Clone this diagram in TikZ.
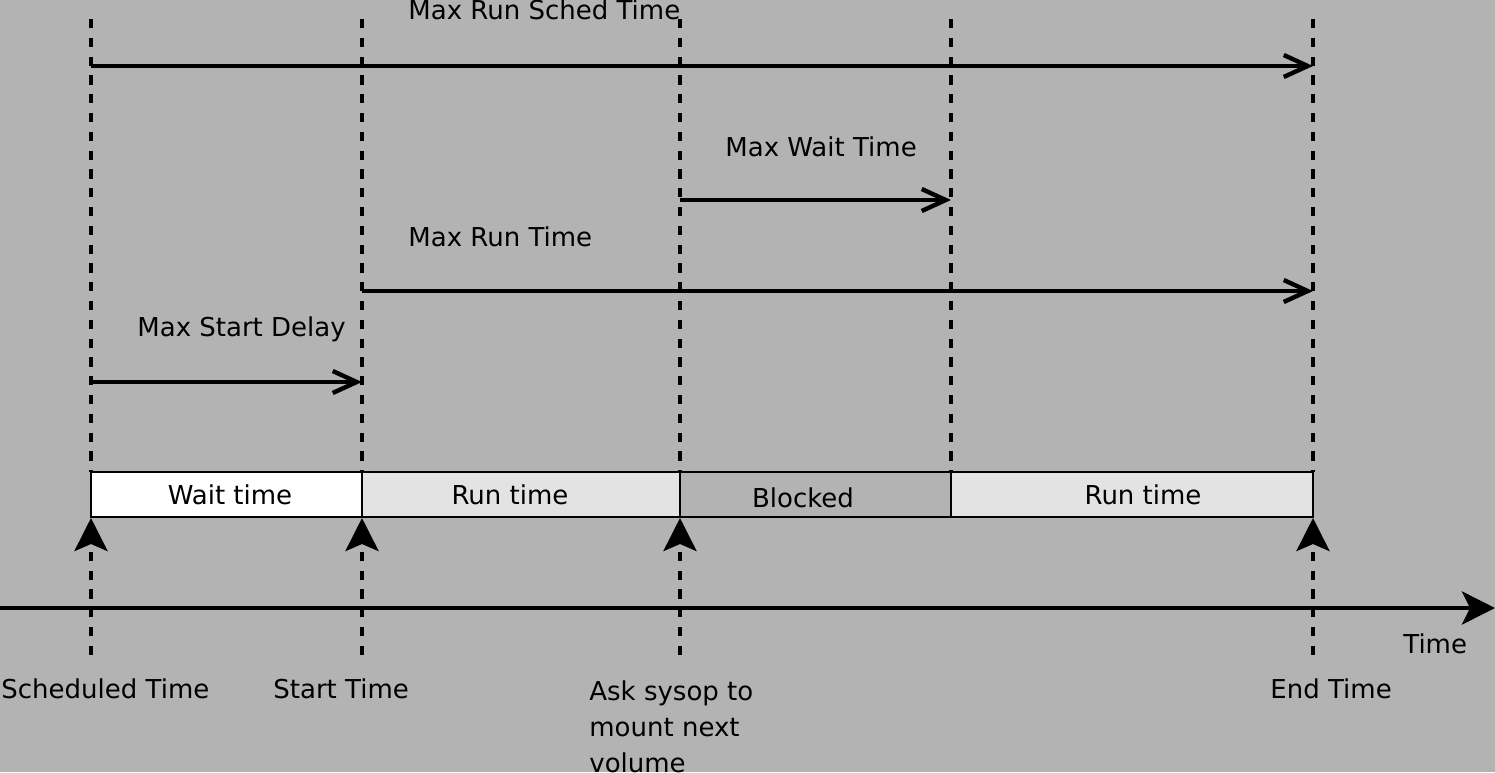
\documentclass[tikz,border=0pt]{standalone}
\usepackage{fontspec}
\setmainfont{DejaVu Sans}
\usetikzlibrary{arrows.meta}
\definecolor{bg}{HTML}{B3B3B3}
\definecolor{lightbox}{HTML}{E3E3E3}
\begin{document}
\begin{tikzpicture}[x=0.5pt,y=-0.5pt,
  vline/.style={line width=2.2pt, dash pattern=on 4.6pt off 4.8pt},
  span/.style={line width=2.2pt, -{Straight Barb[length=12pt,width=11pt]}},
  upar/.style={line width=2.2pt, dash pattern=on 4.6pt off 4.8pt, -{Stealth[length=16.5pt,width=16.5pt,inset=3.5pt]}},
  axisline/.style={line width=2.4pt, -{Stealth[length=16.5pt,width=16.5pt,inset=4pt]}},
  lbl/.style={anchor=base west, inner sep=0pt, font=\fontsize{13pt}{18pt}\selectfont},
  seg/.style={draw, line width=1.3pt, inner sep=0pt, outer sep=0pt, anchor=north west, minimum height=22.5pt}]
\fill[bg] (0,0) rectangle (1495,772);
\useasboundingbox (0,0) rectangle (1495,772);

% timeline points
\foreach \n/\x in {a/91,b/362,c/680,d/951,e/1313}{
  \coordinate (\n top) at (\x,19);
  \coordinate (\n box) at (\x,472);
  \coordinate (\n low) at (\x,518);
  \coordinate (\n bot) at (\x,655);
}
\foreach \n in {a,b,c,d,e} \draw[vline] (\n top) -- (\n box);

% span arrows
\coordinate (sched0) at (91,66);  \coordinate (sched1) at (1313,66);
\coordinate (wait0) at (680,200); \coordinate (wait1) at (951,200);
\coordinate (run0) at (362,291);  \coordinate (run1) at (1313,291);
\coordinate (start0) at (91,382); \coordinate (start1) at (362,382);
\draw[span] (sched0) -- (sched1);
\draw[span] (wait0) -- (wait1);
\draw[span] (run0) -- (run1);
\draw[span] (start0) -- (start1);
\node[lbl] (lsched) at (408,19) {Max Run Sched Time};
\node[lbl] (lwait) at (725,156) {Max Wait Time};
\node[lbl] (lrun) at (408,246) {Max Run Time};
\node[lbl] (lstart) at (137,336) {Max Start Delay};

% state boxes
\node[seg, fill=white, minimum width=135.5pt] (bwait) at (abox) {};
\node[seg, fill=lightbox, minimum width=159pt] (brun1) at (bbox) {};
\node[seg, fill=bg, minimum width=135.5pt] (bblock) at (cbox) {};
\node[seg, fill=lightbox, minimum width=181pt] (brun2) at (dbox) {};
\node[lbl, anchor=base] (twait) at (230,504) {Wait time};
\node[lbl, anchor=base] (trun1) at (510,504) {Run time};
\node[lbl, anchor=base] (tblock) at (803,507) {Blocked};
\node[lbl, anchor=base] (trun2) at (1143,504) {Run time};

% event arrows
\foreach \n in {a,b,c,e} \draw[upar] (\n bot) -- (\n low);

% time axis
\coordinate (ax0) at (0,608); \coordinate (ax1) at (1495,608);
\draw[axisline] (ax0) -- (ax1);
\node[lbl] (ltime) at (1403,653) {Time};

% event labels
\node[lbl] (lsch) at (1,698) {Scheduled Time};
\node[lbl] (lst) at (273,698) {Start Time};
\node[lbl, align=left, anchor=north west] (lask) at (589,680) {Ask sysop to\\mount next\\volume};
\node[lbl] (lend) at (1270,698) {End Time};
\end{tikzpicture}
\end{document}
